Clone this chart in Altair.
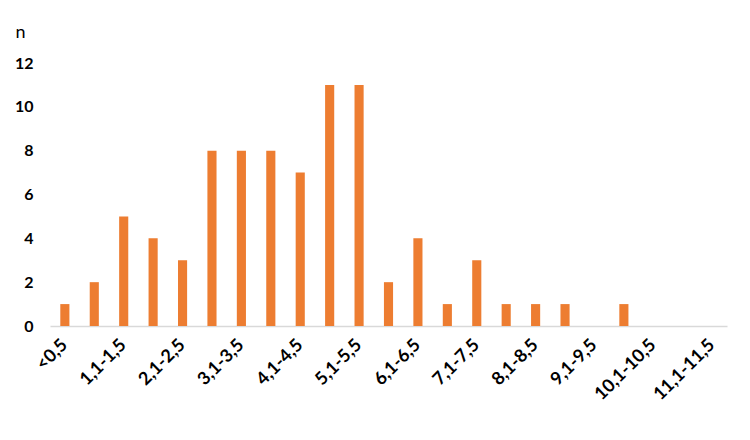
import altair as alt
import pandas as pd

categories = ["<0,5", "0,6-1", "1,1-1,5", "1,6-2", "2,1-2,5", "2,6-3", "3,1-3,5", "3,6-4",
              "4,1-4,5", "4,6-5", "5,1-5,5", "5,6-6", "6,1-6,5", "6,6-7", "7,1-7,5", "7,6-8",
              "8,1-8,5", "8,6-9", "9,1-9,5", "9,6-10", "10,1-10,5", "10,6-11", "11,1-11,5"]
counts = [1, 2, 5, 4, 3, 8, 8, 8, 7, 11, 11, 2, 4, 1, 3, 1, 1, 1, 0, 1, 0, 0, 0]
y_ticks = [0, 2, 4, 6, 8, 10, 12]

df = pd.DataFrame({"cat": categories, "n": counts})

font = "Lato"

chart = alt.Chart(df).mark_bar(color="#ED7D31").encode(
    x=alt.X("cat:N", sort=categories,
            scale=alt.Scale(paddingInner=0.69, paddingOuter=0.35),
            axis=alt.Axis(title=None, values=categories[::2], labelAngle=-45,
                          labelAlign="right", labelBaseline="middle",
                          labelFont=font, labelFontWeight="bold", labelFontSize=18,
                          labelColor="#000000", labelPadding=16,
                          ticks=False, domainColor="#d9d9d9", domainWidth=1.5,
                          labelOverlap=False)),
    y=alt.Y("n:Q", scale=alt.Scale(domain=[0, 12]),
            axis=alt.Axis(values=y_ticks, title="n", titleAngle=0,
                          titleX=-30, titleY=-31, titleAlign="center",
                          titleBaseline="middle", titleFont=font,
                          titleFontWeight="normal", titleFontSize=18,
                          titleColor="#000000",
                          labelFont=font, labelFontWeight="bold", labelFontSize=16,
                          labelColor="#000000", labelPadding=17,
                          ticks=False, domain=False, grid=False)),
).properties(
    width=677, height=263,
    autosize=alt.AutoSizeParams(type="none"),
    padding={"left": 42, "top": 55, "right": 15, "bottom": 100},
).configure_view(stroke=None)

chart.save("out.html", embed_options={"renderer": "svg", "actions": False})
